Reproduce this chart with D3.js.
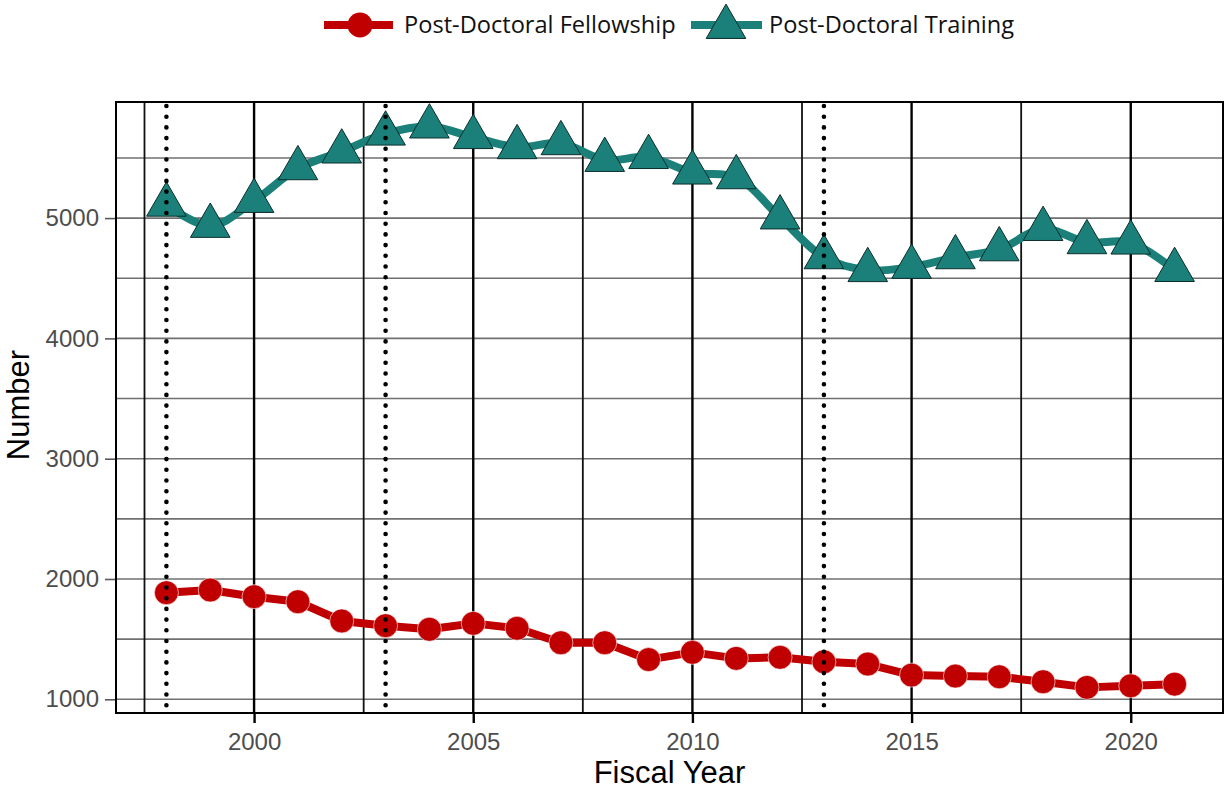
<!DOCTYPE html>
<html>
<head>
<meta charset="utf-8">
<script src="https://cdn.jsdelivr.net/npm/d3@7"></script>
<style>
  html, body { margin: 0; padding: 0; background: #fff; }
  svg { display: block; }
</style>
</head>
<body>
<svg id="chart" width="1224" height="790"></svg>
<script>
// ---- data ----
const years = [1998,1999,2000,2001,2002,2003,2004,2005,2006,2007,2008,2009,2010,2011,2012,2013,2014,2015,2016,2017,2018,2019,2020,2021];
const fellowship = [1886,1908,1853,1811,1651,1612,1582,1631,1590,1470,1470,1330,1390,1340,1349,1312,1293,1201,1193,1187,1146,1099,1112,1126];
const training = [5111,4935,5142,5414,5553,5702,5761,5673,5589,5622,5483,5507,5378,5339,5005,4674,4567,4594,4674,4740,4909,4799,4796,4568];
const xTicks = [2000,2005,2010,2015,2020];
const xMinor = [1997.5,2002.5,2007.5,2012.5,2017.5];
const yTicks = [1000,2000,3000,4000,5000];
const yMinor = [1500,2500,3500,4500,5500];
const markerYears = [1998,2003,2013];
const seriesNames = ["Post-Doctoral Fellowship","Post-Doctoral Training"];

// ---- layout ----
const svg = d3.select("#chart");
const L = 116, R = 1223, T = 102, B = 713;
const RED = "#c00000", TEAL = "#1b8079";

const x = d3.scaleLinear().domain([1996.85, 2022.15]).range([L, R + 2]);
const y = d3.scaleLinear().domain([886, 5965]).range([B, T]);

const g = svg.append("g");

// horizontal grid
g.selectAll(".hmin").data(yMinor).join("line")
  .attr("x1", L).attr("x2", R).attr("y1", d => y(d)).attr("y2", d => y(d))
  .attr("stroke", "#707070").attr("stroke-width", 1.6);
g.selectAll(".hmaj").data(yTicks).join("line")
  .attr("x1", L).attr("x2", R).attr("y1", d => y(d)).attr("y2", d => y(d))
  .attr("stroke", "#707070").attr("stroke-width", 1.6);

// vertical grid
g.selectAll(".vmin").data(xMinor).join("line")
  .attr("x1", d => x(d)).attr("x2", d => x(d)).attr("y1", T).attr("y2", B)
  .attr("stroke", "#111").attr("stroke-width", 1.8);
g.selectAll(".vmaj").data(xTicks).join("line")
  .attr("x1", d => x(d)).attr("x2", d => x(d)).attr("y1", T).attr("y2", B)
  .attr("stroke", "#000").attr("stroke-width", 2.4);

// axes
const yAxis = d3.axisLeft(y).tickValues(yTicks).tickSize(11).tickPadding(6).tickFormat(d3.format("d"));
const ya = svg.append("g").attr("transform", `translate(${L},0)`).call(yAxis);
ya.select(".domain").remove();
ya.selectAll(".tick line").attr("stroke", "#5a5a5a").attr("stroke-width", 1.6);
ya.selectAll(".tick text").attr("fill", "#4d4d4d")
  .style("font-family", "'Liberation Sans', Arial, sans-serif").style("font-size", "24px");

const xAxis = d3.axisBottom(x).tickValues(xTicks).tickSize(10).tickPadding(10).tickFormat(d3.format("d"));
const xa = svg.append("g").attr("transform", `translate(0,${B})`).call(xAxis);
xa.select(".domain").remove();
xa.selectAll(".tick line").attr("stroke", "#000").attr("stroke-width", 2.4);
xa.selectAll(".tick text").attr("fill", "#4d4d4d")
  .style("font-family", "'Liberation Sans', Arial, sans-serif").style("font-size", "24px");

// panel border
svg.append("rect").attr("x", L).attr("y", T).attr("width", R - L).attr("height", B - T)
  .attr("fill", "none").attr("stroke", "#000").attr("stroke-width", 2);

// training line + triangles
const tData = years.map((yr, i) => ({x: yr, y: training[i]}));
const fData = years.map((yr, i) => ({x: yr, y: fellowship[i]}));

svg.append("path").datum(tData)
  .attr("d", d3.line().x(d => x(d.x)).y(d => y(d.y)).curve(d3.curveCatmullRom.alpha(0.5)))
  .attr("fill", "none").attr("stroke", TEAL).attr("stroke-width", 8).attr("stroke-linejoin", "round");

const tri = d3.symbol().type(d3.symbolTriangle).size(680);
svg.selectAll(".tri").data(tData).join("path")
  .attr("transform", d => `translate(${x(d.x)},${y(d.y)})`)
  .attr("d", tri).attr("fill", TEAL).attr("stroke", "#0b2e2c").attr("stroke-width", 1);

// fellowship line + circles
svg.append("path").datum(fData)
  .attr("d", d3.line().x(d => x(d.x)).y(d => y(d.y)))
  .attr("fill", "none").attr("stroke", RED).attr("stroke-width", 8).attr("stroke-linejoin", "round");
svg.selectAll(".dot").data(fData).join("circle")
  .attr("cx", d => x(d.x)).attr("cy", d => y(d.y)).attr("r", 12)
  .attr("fill", RED).attr("stroke", "#fff").attr("stroke-width", 0.6);

// dotted marker lines (on top)
svg.selectAll(".mk").data(markerYears).join("line")
  .attr("x1", d => x(d)).attr("x2", d => x(d)).attr("y1", 106).attr("y2", 706)
  .attr("stroke", "#000").attr("stroke-width", 4.6).attr("stroke-linecap", "round")
  .attr("stroke-dasharray", "0 10.7");

// axis titles
svg.append("text").attr("x", (L + R) / 2).attr("y", 783).attr("text-anchor", "middle")
  .style("font-family", "'Liberation Sans', Arial, sans-serif").style("font-size", "31px").attr("fill", "#000")
  .text("Fiscal Year");
svg.append("text").attr("transform", "translate(29,405) rotate(-90)").attr("text-anchor", "middle")
  .style("font-family", "'Liberation Sans', Arial, sans-serif").style("font-size", "31px").attr("fill", "#000")
  .text("Number");

// legend
const lg = svg.append("g");
lg.append("line").attr("x1", 324).attr("x2", 393).attr("y1", 25).attr("y2", 25)
  .attr("stroke", RED).attr("stroke-width", 8);
lg.append("circle").attr("cx", 360).attr("cy", 25).attr("r", 12.5).attr("fill", RED);
lg.append("text").attr("x", 404).attr("y", 33)
  .style("font-family", "'Open Sans', sans-serif").style("font-size", "23.6px").attr("fill", "#111")
  .text(seriesNames[0]);
lg.append("line").attr("x1", 691).attr("x2", 762).attr("y1", 25).attr("y2", 25)
  .attr("stroke", TEAL).attr("stroke-width", 8);
lg.append("path").attr("transform", "translate(726,27)").attr("d", tri)
  .attr("fill", TEAL).attr("stroke", "#0b2e2c").attr("stroke-width", 1);
lg.append("text").attr("x", 769).attr("y", 33)
  .style("font-family", "'Open Sans', sans-serif").style("font-size", "23.6px").attr("fill", "#111")
  .text(seriesNames[1]);
</script>
</body>
</html>
